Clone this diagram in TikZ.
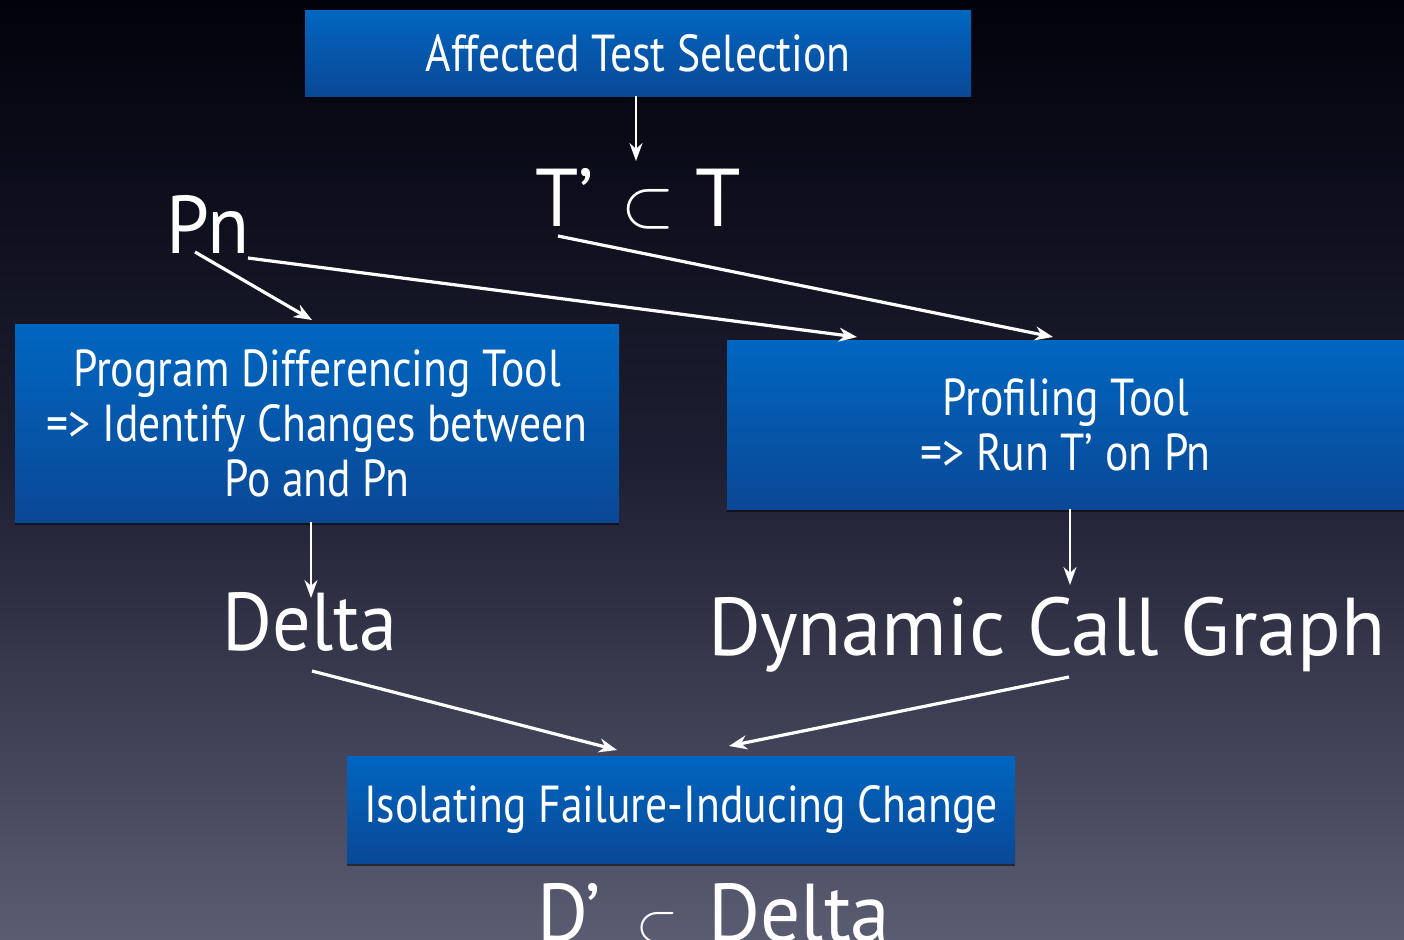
\documentclass[tikz,border=0pt]{standalone}
\usepackage{fontspec}
\setmainfont{PT Sans}
\usetikzlibrary{arrows.meta,shadows}
\definecolor{boxtop}{RGB}{0,102,192}
\definecolor{boxbot}{RGB}{10,72,150}
\definecolor{bgtop}{RGB}{2,2,12}
\definecolor{bgmid}{RGB}{30,31,50}
\definecolor{bgbot}{RGB}{90,92,114}
\newcommand{\nar}[1]{\scalebox{0.84}[1]{#1}}
\newcommand{\bnar}[2]{\scalebox{#1}[1]{#2}}
\tikzset{
  box/.style={draw=none, top color=boxtop, bottom color=boxbot, text=white, align=center,
    font=\fontsize{26}{27.5}\selectfont, inner sep=0pt,
    drop shadow={opacity=0.5, shadow xshift=0pt, shadow yshift=-1.5pt, fill=black}},
  big/.style={text=white, font=\fontsize{41}{41}\selectfont, inner sep=0pt, anchor=base},
  arr/.style={white, line width=1.6pt, -{Stealth[length=9pt,width=7pt]}},
  varr/.style={white, line width=1pt, -{Stealth[length=9pt,width=6.5pt]}},
}
\begin{document}
\begin{tikzpicture}[x=0.5pt,y=-0.5pt]
\useasboundingbox (0,0) rectangle (1404,939);
\shade[top color=bgtop, bottom color=bgbot, middle color=bgmid] (0,0) rectangle (1404,939);

% boxes
\node[box, minimum width=333pt, minimum height=43pt] (ats) at (638,53) {\nar{Affected Test Selection}};
\node[box, minimum width=302pt, minimum height=99pt] (pdt) at (317,423)
  {\nar{Program Differencing Tool}\\\nar{=> Identify Changes between}\\\nar{Po and Pn}};
\node[box, minimum width=338.5pt, minimum height=84.5pt] (prof) at (1065.5,424.5)
  {\nar{Profiling Tool}\\\nar{=> Run T’ on Pn}};
\node[box, minimum width=334pt, minimum height=53.5pt] (iso) at (681,809.5)
  {\nar{Isolating Failure-Inducing Change}};

% big labels
\node[big] (tsub) at (638,226) {\bnar{0.95}{T’}\hspace{14pt}\resizebox{!}{18.5pt}{$\subset$}\hspace{10pt}T};
\node[big] (pn) at (208,253) {\bnar{0.94}{Pn}};
\node[big] (delta) at (310,650) {\bnar{0.93}{Delta}};
\node[big] (dcg) at (1047,655) {\bnar{0.985}{Dynamic Call Graph}};
\node[big] (dsub) at (714,941) {\bnar{0.95}{D’}\hspace{18pt}\resizebox{!}{14.5pt}{$\subset$}\hspace{15pt}\bnar{0.97}{Delta}};

% connector end points
\coordinate (a1s) at (636,96);   \coordinate (a1e) at (636,161);
\coordinate (a2s) at (195,252);  \coordinate (a2e) at (312,320);
\coordinate (a3s) at (248,258);  \coordinate (a3e) at (857,337);
\coordinate (a4s) at (558,236);  \coordinate (a4e) at (1053,337);
\coordinate (a5s) at (311,522);  \coordinate (a5e) at (311,598);
\coordinate (a6s) at (1070,509); \coordinate (a6e) at (1070,585);
\coordinate (a7s) at (312,671);  \coordinate (a7e) at (617,750);
\coordinate (a8s) at (1069,677); \coordinate (a8e) at (729,746);

\draw[varr] (a1s) -- (a1e);
\draw[arr] (a2s) -- (a2e);
\draw[arr] (a3s) -- (a3e);
\draw[arr] (a4s) -- (a4e);
\draw[varr] (a5s) -- (a5e);
\draw[varr] (a6s) -- (a6e);
\draw[arr] (a7s) -- (a7e);
\draw[arr] (a8s) -- (a8e);
\end{tikzpicture}
\end{document}
